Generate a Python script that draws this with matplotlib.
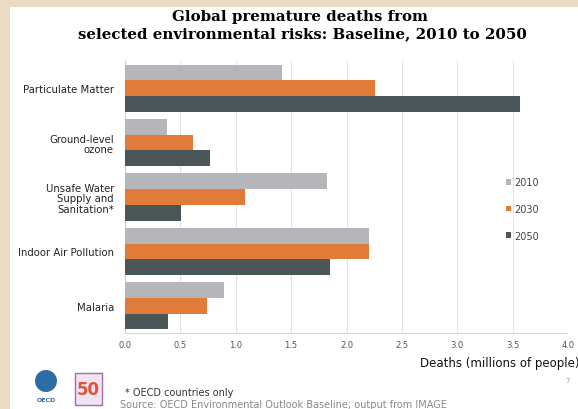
import matplotlib
matplotlib.use("Agg")
import matplotlib.pyplot as plt
from matplotlib.patches import Rectangle, Ellipse
import numpy as np

categories = ["Particulate Matter", "Ground-level\nozone", "Unsafe Water\nSupply and\nSanitation*",
              "Indoor Air Pollution", "Malaria"]
years = ["2010", "2030", "2050"]
v2010 = [1.42, 0.38, 1.82, 2.20, 0.89]
v2030 = [2.26, 0.61, 1.08, 2.20, 0.74]
v2050 = [3.57, 0.77, 0.51, 1.85, 0.39]
xticks = [0.0, 0.5, 1.0, 1.5, 2.0, 2.5, 3.0, 3.5, 4.0]
colors = ["#B4B6BA", "#E07B39", "#4B5659"]

W, H = 578, 410
fig = plt.figure(figsize=(W / 100, H / 100), dpi=100)
fig.patch.set_facecolor("#EADCC2")
fig.add_artist(Rectangle((10 / W, 0), 1, 1 - 8 / H, transform=fig.transFigure,
                         facecolor="white", edgecolor="none", zorder=0))

ax = fig.add_axes([125 / W, 1 - 334 / H, (568 - 125) / W, (334 - 62) / H])
ax.set_facecolor("white")
y = np.arange(len(categories))
h = 0.29
for k, (vals, c, lab) in enumerate(zip([v2010, v2030, v2050], colors, years)):
    ax.barh(y + (k - 1) * h, vals, height=h, color=c, label=lab, zorder=3)

ax.set_ylim(len(categories) - 0.5, -0.5)
ax.set_xlim(0, 4.0)
ax.set_xticks(xticks)
ax.set_xticklabels([f"{t:.1f}" for t in xticks], fontsize=6, color="#555555",
                   family="DejaVu Sans")
ax.set_yticks(y)
ax.set_yticklabels(categories, fontsize=7.3, family="DejaVu Sans", color="#222222",
                   linespacing=1.1)
ax.tick_params(axis="y", length=0, pad=8)
ax.tick_params(axis="x", length=0, pad=5)
ax.xaxis.grid(True, color="#E3E3E3", linewidth=0.7, zorder=0)
for s in ["top", "right"]:
    ax.spines[s].set_visible(False)
ax.spines["left"].set_color("#CFCFCF")
ax.spines["bottom"].set_color("#D5D5D5")
ax.spines["bottom"].set_linestyle((0, (2, 1)))

leg = ax.legend(loc="center left", bbox_to_anchor=(497 / W, 1 - 210 / H),
                bbox_transform=fig.transFigure, frameon=False,
                handlelength=0.5, handleheight=0.5, handletextpad=0.4, labelspacing=1.7,
                prop={"family": "DejaVu Sans", "size": 7})
for t in leg.get_texts():
    t.set_color("#444444")

fig.text(300 / W, 1 - 17 / H, "Global premature deaths from", ha="center", va="center",
         fontsize=10.8, fontweight="bold", family="DejaVu Serif")
fig.text(302 / W, 1 - 34 / H, "selected environmental risks: Baseline, 2010 to 2050",
         ha="center", va="center", fontsize=10.8, fontweight="bold", family="DejaVu Serif")
fig.text(420 / W, 1 - 364 / H, "Deaths (millions of people)", ha="left", va="center",
         fontsize=8.5, family="DejaVu Sans", color="#111111")
fig.text(125 / W, 1 - 393 / H, "* OECD countries only", ha="left", va="center",
         fontsize=7, family="DejaVu Sans", color="#333333")
fig.text(120 / W, 1 - 405 / H,
         "Source: OECD Environmental Outlook Baseline; output from IMAGE",
         ha="left", va="center", fontsize=7, family="DejaVu Sans", color="#888888")
fig.text(568 / W, 1 - 381 / H, "7", ha="center", va="center", fontsize=5,
         color="#999999", family="DejaVu Sans")

# logo approximation
fig.add_artist(Ellipse((46 / W, 1 - 382 / H), 22 / W, 22 / H, transform=fig.transFigure,
                       facecolor="#2E6DA4", edgecolor="none"))
fig.text(46 / W, 1 - 401 / H, "OECD", ha="center", va="center", fontsize=4.5,
         color="#2E6DA4", fontweight="bold", family="DejaVu Sans")
fig.add_artist(Rectangle((75 / W, 1 - 406 / H), 27 / W, 32 / H, transform=fig.transFigure,
                         facecolor="#F2E3F2", edgecolor="#9C6FB5", linewidth=1))
fig.text(88.5 / W, 1 - 390 / H, "50", ha="center", va="center", fontsize=12,
         fontweight="bold", color="#E0533A", family="DejaVu Sans")

fig.savefig("out.png", dpi=100, facecolor=fig.get_facecolor())
